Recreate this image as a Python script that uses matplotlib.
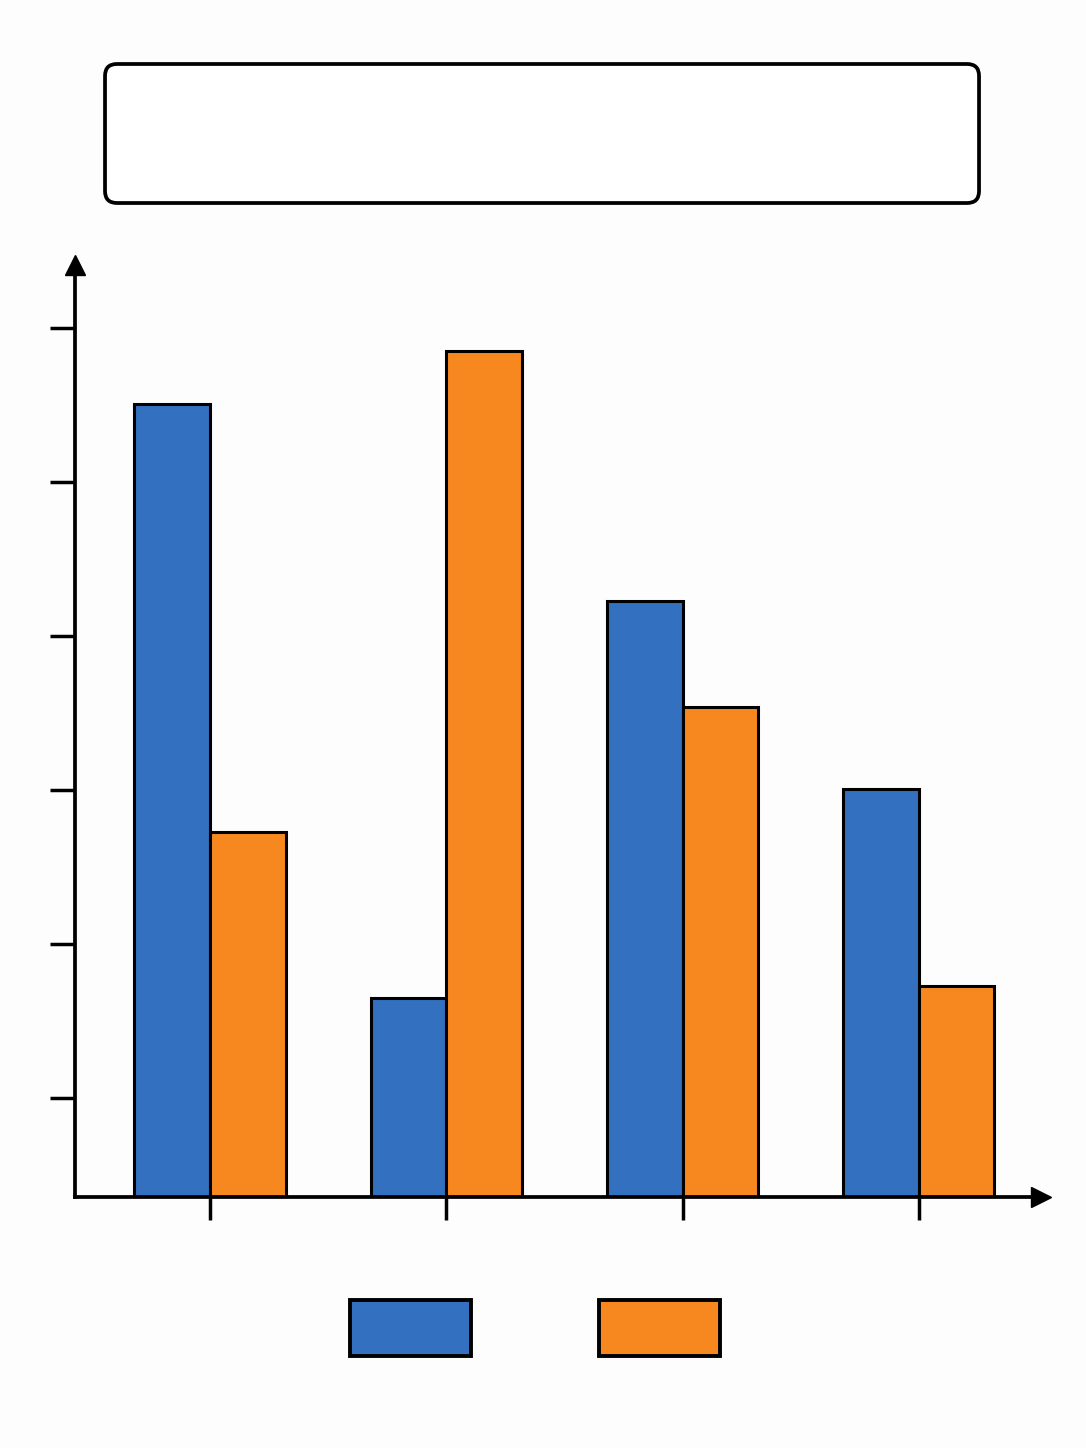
import numpy as np
import matplotlib.pyplot as plt
from matplotlib.patches import FancyBboxPatch

# values (no labels anywhere in the reference)
groups = [0, 1, 2, 3]
series_a = [55.1, 16.5, 42.3, 30.1]   # blue
series_b = [27.3, 58.5, 35.4, 17.3]   # orange
yticks = [10, 20, 30, 40, 50, 60]

blue = '#3370c0'
orange = '#f78820'
bg = '#fdfdfd'

fig = plt.figure(figsize=(10.86, 14.48), dpi=100, facecolor=bg)
ax = fig.add_axes([0.06906, 0.17334, 0.8895, 0.6436])
ax.set_facecolor(bg)

y0 = 3.57
x = np.array(groups)
w = 0.32
bars_a = ax.bar(x - w/2, np.array(series_a) - y0, w, bottom=y0, color=blue,
                edgecolor='black', linewidth=2.2)
bars_b = ax.bar(x + w/2, np.array(series_b) - y0, w, bottom=y0, color=orange,
                edgecolor='black', linewidth=2.2)

ax.set_xlim(-0.571, 3.517)
ax.set_ylim(y0, 64.1)
ax.set_xticks(groups)
ax.set_yticks(yticks)
ax.set_xticklabels([])
ax.set_yticklabels([])
ax.tick_params(axis='y', length=18, width=2.5, direction='out')
ax.tick_params(axis='x', length=16.5, width=2.5, direction='out')

for s in ['top', 'right']:
    ax.spines[s].set_visible(False)
for s in ['left', 'bottom']:
    ax.spines[s].set_linewidth(2.7)
    ax.spines[s].set_zorder(5)

# arrow heads on the axes
ax.plot(0, 1, '^k', ms=15, transform=ax.transAxes, clip_on=False, zorder=6)
ax.plot(1, 0, '>k', ms=15, transform=ax.transAxes, clip_on=False, zorder=6)

# empty title box
box = FancyBboxPatch((0.0967, 0.8598), 0.8048, 0.096,
                     boxstyle='round,pad=0,rounding_size=0.011',
                     mutation_aspect=1086/1448,
                     transform=fig.transFigure, facecolor='white',
                     edgecolor='black', linewidth=2.7)
fig.patches.append(box)

leg = fig.legend([bars_a, bars_b], ['', ''], loc='center',
                 bbox_to_anchor=(0.4926, 0.0829),
                 ncol=2, frameon=False, fontsize=20, handlelength=4.35,
                 handleheight=2.75, handletextpad=0, columnspacing=4.6)
for h in leg.legend_handles:
    h.set_linewidth(2.8)

fig.savefig('out.png', dpi=100, facecolor=bg)
